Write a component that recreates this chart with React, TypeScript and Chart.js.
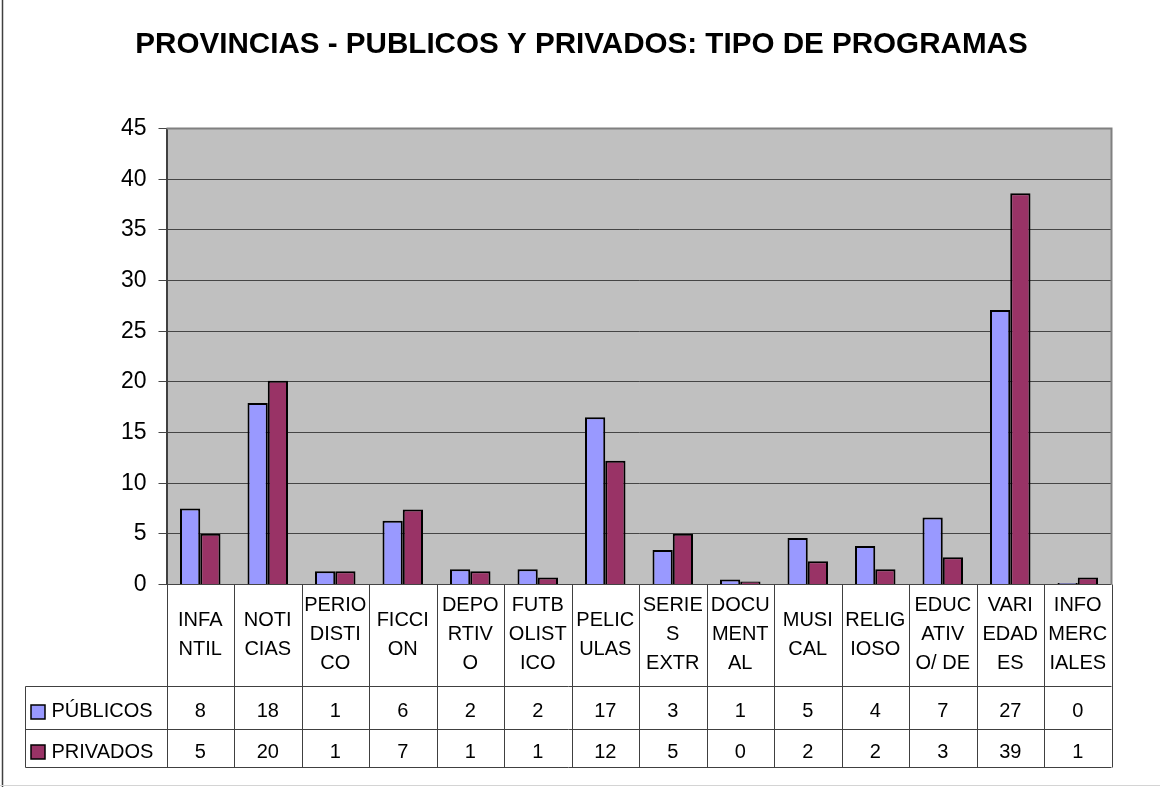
import React, { useEffect, useRef } from 'react';
import { Chart, registerables } from 'chart.js';

Chart.register(...registerables);

const TITLE = 'PROVINCIAS - PUBLICOS Y PRIVADOS: TIPO DE PROGRAMAS';

const CATEGORIES: string[][] = [
  ['INFA', 'NTIL'],
  ['NOTI', 'CIAS'],
  ['PERIO', 'DISTI', 'CO'],
  ['FICCI', 'ON'],
  ['DEPO', 'RTIV', 'O'],
  ['FUTB', 'OLIST', 'ICO'],
  ['PELIC', 'ULAS'],
  ['SERIE', 'S', 'EXTR'],
  ['DOCU', 'MENT', 'AL'],
  ['MUSI', 'CAL'],
  ['RELIG', 'IOSO'],
  ['EDUC', 'ATIV', 'O/ DE'],
  ['VARI', 'EDAD', 'ES'],
  ['INFO', 'MERC', 'IALES'],
];

const SERIES_NAMES = ['PÚBLICOS', 'PRIVADOS'];

const PUBLICOS = [7.5, 17.9, 1.3, 6.3, 1.5, 1.5, 16.5, 3.4, 0.5, 4.6, 3.8, 6.6, 27.1, 0.15];
const PRIVADOS = [5.0, 20.1, 1.3, 7.4, 1.3, 0.7, 12.2, 5.0, 0.3, 2.3, 1.5, 2.7, 38.6, 0.7];

const PUBLICOS_TABLE = ['8', '18', '1', '6', '2', '2', '17', '3', '1', '5', '4', '7', '27', '0'];
const PRIVADOS_TABLE = ['5', '20', '1', '7', '1', '1', '12', '5', '0', '2', '2', '3', '39', '1'];

const Y_MIN = 0;
const Y_MAX = 45;
const Y_STEP = 5;

const COLOR_PUB = '#9999FF';
const COLOR_PRIV = '#993366';
const FONT = "Arial, 'Liberation Sans', sans-serif";

const W = 1160;
const H = 787;
const AREA_LEFT = 166.5;
const AREA_RIGHT = 1111.5;
const AREA_TOP = 128.5;
const AREA_BOTTOM = 584.5;
const ROW1_TOP = 686.5;
const ROW2_TOP = 729.5;
const TABLE_BOTTOM = 767.5;
const LEGEND_LEFT = 25.5;

const tablePlugin = {
  id: 'excelTable',
  beforeDraw(chart: any) {
    const { ctx, chartArea: a } = chart;
    ctx.save();
    ctx.fillStyle = '#ffffff';
    ctx.fillRect(0, 0, chart.width, chart.height);
    ctx.fillStyle = '#C0C0C0';
    ctx.fillRect(a.left, a.top, a.right - a.left, a.bottom - a.top);
    ctx.restore();
  },
  afterDraw(chart: any) {
    const { ctx, chartArea: a } = chart;
    const xs = chart.scales.x;
    const n = CATEGORIES.length;
    const catW = (a.right - a.left) / n;
    ctx.save();

    // frame
    ctx.strokeStyle = '#404040';
    ctx.lineWidth = 1.5;
    ctx.beginPath();
    ctx.moveTo(2.5, 0);
    ctx.lineTo(2.5, H);
    ctx.stroke();
    ctx.strokeStyle = '#d4d4d4';
    ctx.lineWidth = 1;
    ctx.beginPath();
    ctx.moveTo(0, 785.5);
    ctx.lineTo(W, 785.5);
    ctx.stroke();

    // plot border right/top
    ctx.strokeStyle = '#808080';
    ctx.lineWidth = 2;
    ctx.beginPath();
    ctx.moveTo(a.left, a.top);
    ctx.lineTo(a.right, a.top);
    ctx.lineTo(a.right, a.bottom);
    ctx.stroke();

    // title
    ctx.fillStyle = '#000';
    ctx.font = `bold 29.6px ${FONT}`;
    ctx.textAlign = 'center';
    ctx.textBaseline = 'alphabetic';
    ctx.fillText(TITLE, 581.5, 53);

    // table lines
    ctx.strokeStyle = '#404040';
    ctx.lineWidth = 1;
    ctx.beginPath();
    for (let i = 0; i <= n; i++) {
      const xp = Math.round(a.left + i * catW) + 0.5;
      ctx.moveTo(xp, a.bottom);
      ctx.lineTo(xp, TABLE_BOTTOM);
    }
    ctx.moveTo(LEGEND_LEFT, ROW1_TOP);
    ctx.lineTo(LEGEND_LEFT, TABLE_BOTTOM);
    [ROW1_TOP, ROW2_TOP, TABLE_BOTTOM].forEach((yp) => {
      ctx.moveTo(LEGEND_LEFT, yp);
      ctx.lineTo(a.right, yp);
    });
    ctx.stroke();

    // category labels
    ctx.font = `20px ${FONT}`;
    ctx.fillStyle = '#000';
    ctx.textAlign = 'center';
    const lineH = 29;
    const labelCenter = 633;
    CATEGORIES.forEach((lines, i) => {
      const cx = xs.getPixelForValue(i);
      lines.forEach((t, j) => {
        const cy = labelCenter + (j - (lines.length - 1) / 2) * lineH;
        ctx.fillText(t, cx, cy + 7.2);
      });
    });

    // values
    const rowCenters = [709.5, 750.5];
    [PUBLICOS_TABLE, PRIVADOS_TABLE].forEach((vals, r) => {
      vals.forEach((v, i) => {
        ctx.fillText(v, xs.getPixelForValue(i), rowCenters[r] + 7.2);
      });
    });

    // legend keys
    const keyColors = [COLOR_PUB, COLOR_PRIV];
    const keyTops = [705, 745];
    SERIES_NAMES.forEach((name, r) => {
      ctx.fillStyle = keyColors[r];
      ctx.fillRect(31, keyTops[r], 14, 14);
      ctx.strokeStyle = '#000';
      ctx.lineWidth = 1.5;
      ctx.strokeRect(31, keyTops[r], 14, 14);
      ctx.fillStyle = '#000';
      ctx.textAlign = 'left';
      ctx.fillText(name, 51.5, rowCenters[r] + 7.2);
    });

    ctx.restore();
  },
};

export default function App() {
  const ref = useRef<HTMLCanvasElement | null>(null);

  useEffect(() => {
    if (!ref.current) return;
    const chart = new Chart(ref.current, {
      type: 'bar',
      data: {
        labels: CATEGORIES,
        datasets: [
          {
            label: SERIES_NAMES[0],
            data: PUBLICOS,
            backgroundColor: COLOR_PUB,
            borderColor: '#000000',
            borderWidth: 2,
          },
          {
            label: SERIES_NAMES[1],
            data: PRIVADOS,
            backgroundColor: COLOR_PRIV,
            borderColor: '#000000',
            borderWidth: 2,
          },
        ],
      },
      options: {
        responsive: false,
        animation: false,
        devicePixelRatio: 1,
        layout: {
          padding: {
            left: 0,
            top: AREA_TOP,
            right: W - AREA_RIGHT,
            bottom: H - AREA_BOTTOM,
          },
        },
        datasets: {
          bar: {
            categoryPercentage: 0.6,
            barPercentage: 1,
          },
        },
        plugins: {
          legend: { display: false },
          title: { display: false },
          tooltip: { enabled: false },
        },
        scales: {
          x: {
            type: 'category',
            ticks: { display: false },
            grid: { display: false },
            border: { display: false },
            afterFit: (s: any) => {
              s.height = 0;
            },
          },
          y: {
            min: Y_MIN,
            max: Y_MAX,
            ticks: {
              stepSize: Y_STEP,
              color: '#000',
              font: { family: FONT, size: 23 },
              padding: 12,
            },
            grid: {
              color: '#454545',
              lineWidth: 1,
              tickLength: 8,
            },
            border: { display: true, color: '#404040', width: 2 },
            afterFit: (s: any) => {
              s.width = AREA_LEFT;
            },
          },
        },
      },
      plugins: [tablePlugin],
    });
    return () => chart.destroy();
  }, []);

  return (
    <div style={{ position: 'fixed', left: 0, top: 0, width: W, height: H, background: '#fff' }}>
      <canvas ref={ref} width={W} height={H} style={{ display: 'block', width: W, height: H }} />
    </div>
  );
}
